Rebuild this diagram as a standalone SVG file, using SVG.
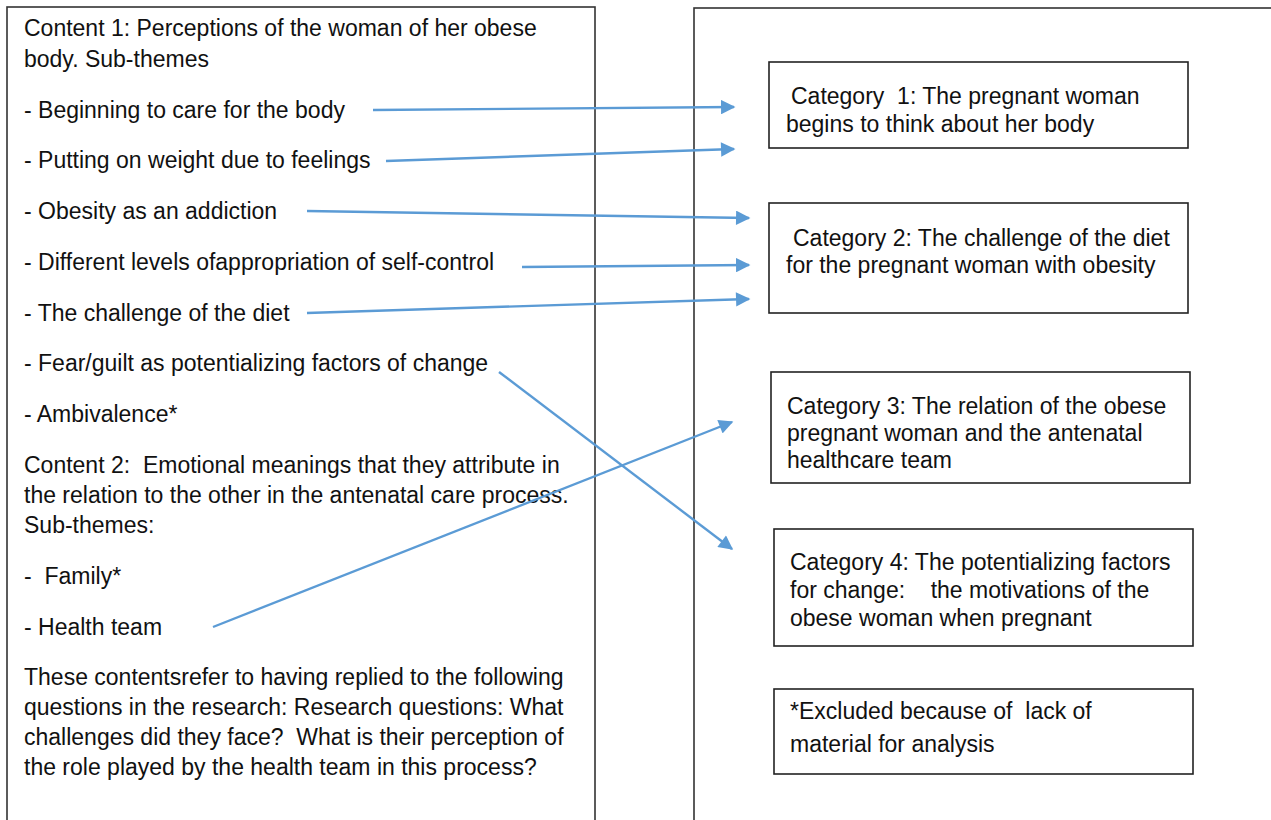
<svg xmlns="http://www.w3.org/2000/svg" width="1271" height="820" viewBox="0 0 1271 820">
<style>
  .frame{fill:#fff;stroke:#333;stroke-width:1.6}
  .box{fill:#fff;stroke:#222;stroke-width:1.6}
  text{font-family:"Liberation Sans",Arial,sans-serif;font-size:23px;fill:#111;white-space:pre}
  .conn{stroke:#5b9bd5;stroke-width:2.4;fill:none;marker-end:url(#ah)}
</style>
<defs>
  <marker id="ah" viewBox="0 0 10 10" refX="9" refY="5" markerWidth="6.5" markerHeight="6" markerUnits="strokeWidth" orient="auto">
    <path d="M0,0 L10,5 L0,10 z" fill="#5b9bd5"/>
  </marker>
</defs>
<rect width="1271" height="820" fill="#fff"/>
<g id="left-panel">
  <rect class="frame" x="7" y="7" width="588" height="830"/>
  <text x="24" y="36">Content 1: Perceptions of the woman of her obese</text>
  <text x="24" y="67">body. Sub-themes</text>
  <text x="24" y="118">- Beginning to care for the body</text>
  <text x="24" y="168">- Putting on weight due to feelings</text>
  <text x="24" y="219">- Obesity as an addiction</text>
  <text x="24" y="270">- Different levels ofappropriation of self-control</text>
  <text x="24" y="321">- The challenge of the diet</text>
  <text x="24" y="371">- Fear/guilt as potentializing factors of change</text>
  <text x="24" y="422">- Ambivalence*</text>
  <text x="24" y="473">Content 2:  Emotional meanings that they attribute in</text>
  <text x="24" y="503">the relation to the other in the antenatal care process.</text>
  <text x="24" y="533">Sub-themes:</text>
  <text x="24" y="584">-  Family*</text>
  <text x="24" y="635">- Health team</text>
  <text x="24" y="685">These contentsrefer to having replied to the following</text>
  <text x="24" y="715">questions in the research: Research questions: What</text>
  <text x="24" y="745">challenges did they face?  What is their perception of</text>
  <text x="24" y="775">the role played by the health team in this process?</text>
</g>
<g id="right-panel">
  <rect class="frame" x="694" y="8" width="600" height="830"/>
</g>
<g id="cat1">
  <rect class="box" x="769" y="62" width="419" height="86"/>
  <text x="791" y="104">Category  1: The pregnant woman</text>
  <text x="786" y="132">begins to think about her body</text>
</g>
<g id="cat2">
  <rect class="box" x="769" y="203" width="419" height="110"/>
  <text x="793" y="246">Category 2: The challenge of the diet</text>
  <text x="786" y="273">for the pregnant woman with obesity</text>
</g>
<g id="cat3">
  <rect class="box" x="771" y="372" width="419" height="111"/>
  <text x="787" y="414">Category 3: The relation of the obese</text>
  <text x="787" y="441">pregnant woman and the antenatal</text>
  <text x="787" y="468">healthcare team</text>
</g>
<g id="cat4">
  <rect class="box" x="774" y="529" width="419" height="117"/>
  <text x="790" y="570">Category 4: The potentializing factors</text>
  <text x="790" y="598">for change:    the motivations of the</text>
  <text x="790" y="626">obese woman when pregnant</text>
</g>
<g id="excluded">
  <rect class="box" x="774" y="689" width="419" height="85"/>
  <text x="790" y="719">*Excluded because of  lack of</text>
  <text x="790" y="752">material for analysis</text>
</g>
<g id="connectors">
  <line class="conn" x1="373" y1="110" x2="734" y2="107"/>
  <line class="conn" x1="386" y1="161" x2="734" y2="149"/>
  <line class="conn" x1="307" y1="211" x2="749" y2="218"/>
  <line class="conn" x1="522" y1="267" x2="749" y2="265"/>
  <line class="conn" x1="307" y1="313" x2="749" y2="299"/>
  <line class="conn" x1="499" y1="372" x2="732" y2="549"/>
  <line class="conn" x1="213" y1="627" x2="732" y2="422"/>
</g>
</svg>
